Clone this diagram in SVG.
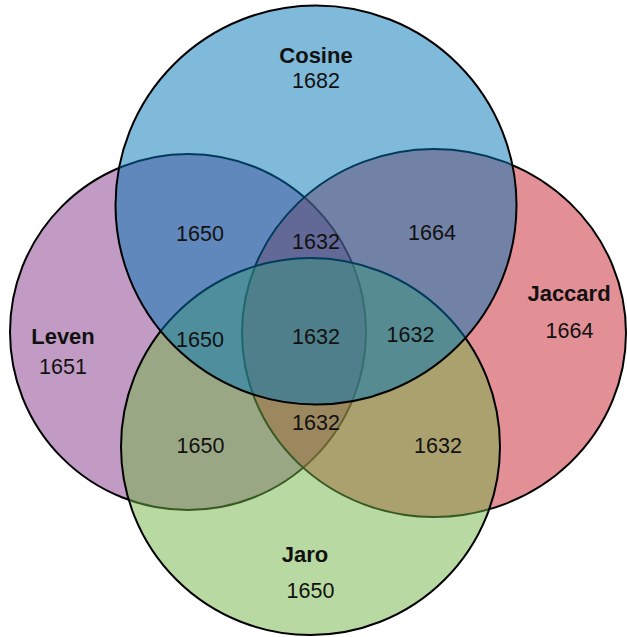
<svg xmlns="http://www.w3.org/2000/svg" width="627" height="637" viewBox="0 0 627 637">
  <style>
    .set { stroke: #000; stroke-width: 2; fill-opacity: 0.5; }
    .name { font-family: "Liberation Sans", Arial, sans-serif; font-size: 22px; font-weight: bold; fill: #111; text-anchor: middle; }
    .count { font-family: "Liberation Sans", Arial, sans-serif; font-size: 21.5px; fill: #111; text-anchor: middle; }
  </style>
  <rect width="627" height="637" fill="#fff"/>

  <!-- sets, drawn bottom to top so later fills tint earlier outlines -->
  <g id="leven">
    <ellipse class="set" cx="188" cy="332" rx="178" ry="178" fill="#83378A"/>
  </g>
  <g id="jaccard">
    <ellipse class="set" cx="434" cy="333" rx="192" ry="184" fill="#C71F2D"/>
  </g>
  <g id="jaro">
    <ellipse class="set" cx="310.5" cy="446.5" rx="189.5" ry="188.5" fill="#73B345"/>
  </g>
  <g id="cosine">
    <ellipse class="set" cx="316" cy="205" rx="200.5" ry="199.5" fill="#0175B5"/>
  </g>

  <!-- set names and region counts -->
  <g id="labels">
    <text class="name" x="316" y="63">Cosine</text>
    <text class="count" x="316" y="88">1682</text>

    <text class="name" x="63" y="344">Leven</text>
    <text class="count" x="63" y="374">1651</text>

    <text class="name" x="569" y="301">Jaccard</text>
    <text class="count" x="569.5" y="338">1664</text>

    <text class="name" x="305" y="562">Jaro</text>
    <text class="count" x="310.5" y="598">1650</text>

    <text class="count" x="200" y="241">1650</text>
    <text class="count" x="316" y="249">1632</text>
    <text class="count" x="432" y="240">1664</text>

    <text class="count" x="200" y="347">1650</text>
    <text class="count" x="316" y="344">1632</text>
    <text class="count" x="410.5" y="342">1632</text>

    <text class="count" x="316" y="430">1632</text>
    <text class="count" x="200.5" y="453">1650</text>
    <text class="count" x="438" y="453">1632</text>
  </g>
</svg>
